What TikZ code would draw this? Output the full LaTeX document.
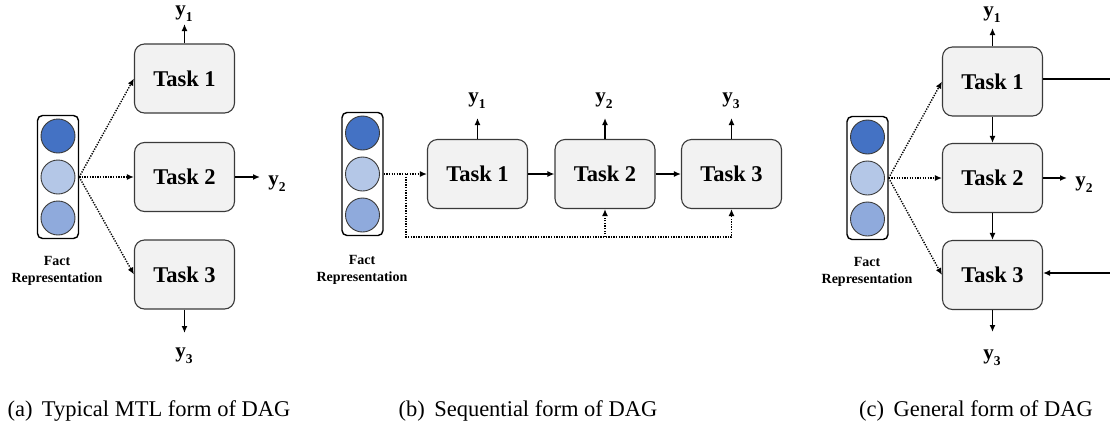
\documentclass[tikz,border=0pt]{standalone}
\usepackage{fontspec}
\setmainfont{Liberation Serif}
\usetikzlibrary{arrows.meta}
\definecolor{cdark}{HTML}{4472C4}
\definecolor{clight}{HTML}{B4C7E7}
\definecolor{cmid}{HTML}{8FAADC}
\definecolor{boxfill}{HTML}{F2F2F2}
\definecolor{boxline}{HTML}{3A3A3A}
\newcommand\ylab[1]{\textbf{y}\raisebox{-0.28em}{\fontsize{13.5}{14}\selectfont\textbf{#1}}}
\tikzset{
  taskbox/.style={draw=boxline, fill=boxfill, line width=1.1pt, rounded corners=10pt,
    minimum width=100pt, minimum height=69pt, inner sep=0pt,
    font=\fontsize{22.5}{25}\selectfont\bfseries},
  repbox/.style={draw=black, line width=1.4pt, rounded corners=5pt,
    minimum width=41pt, minimum height=123pt, inner sep=0pt},
  dotcirc/.style={circle, draw=boxline, line width=0.9pt, minimum size=34pt, inner sep=0pt},
  replab/.style={align=center, font=\fontsize{14}{17}\selectfont\bfseries, inner sep=0pt},
  ylabel/.style={font=\fontsize{21}{22}\selectfont, inner sep=0pt},
  captext/.style={font=\fontsize{22.5}{26}\selectfont, inner sep=0pt},
  solidarrow/.style={line width=1.4pt, -{Latex[length=7pt,width=6pt]}},
  solidline/.style={line width=1.4pt},
  dotarrow/.style={line width=1.4pt, dash pattern=on 1.3pt off 1.3pt, -{Latex[length=7pt,width=6pt]}},
  dotline/.style={line width=1.4pt, dash pattern=on 1.3pt off 1.3pt},
}
\begin{document}
\begin{tikzpicture}[x=1pt, y=-1pt]
\useasboundingbox (0,0) rectangle (1110,437);

%% ---------- (a) ----------
\node[repbox] (ar) at (58,177) {};
\node[dotcirc, fill=cdark]  (ac1) at (58,136) {};
\node[dotcirc, fill=clight] (ac2) at (58,177) {};
\node[dotcirc, fill=cmid]   (ac3) at (58,218) {};
\node[replab] (al) at (57,271) {Fact\\Representation};
\node[taskbox] (a1) at (184.5,78.5) {Task 1};
\node[taskbox] (a2) at (184.5,177) {Task 2};
\node[taskbox] (a3) at (184.5,274.5) {Task 3};
\coordinate (ay1) at (184.5,24);
\coordinate (ay2) at (260,177);
\coordinate (ay3) at (184.5,333);
\node[ylabel] (ly1a) at (184,13.5) {\ylab{1}};
\node[ylabel] (ly2a) at (277,184) {\ylab{2}};
\node[ylabel] (ly3a) at (184,356) {\ylab{3}};
\draw[solidarrow] (a1.north) -- (ay1);
\draw[solidarrow] (a2.east) -- (ay2);
\draw[solidarrow] (a3.south) -- (ay3);
\draw[dotarrow] (ar.east) -- (a1.west);
\draw[dotarrow] (ar.east) -- (a2.west);
\draw[dotarrow] (ar.east) -- (a3.west);
\node[captext] (capa) at (149,411) {(a)\, Typical MTL form of DAG};

%% ---------- (b) ----------
\node[repbox] (br) at (362.5,174) {};
\node[dotcirc, fill=cdark]  (bc1) at (362.5,133) {};
\node[dotcirc, fill=clight] (bc2) at (362.5,174) {};
\node[dotcirc, fill=cmid]   (bc3) at (362.5,215) {};
\node[replab] (bl) at (362,270) {Fact\\Representation};
\node[taskbox] (b1) at (477.5,174) {Task 1};
\node[taskbox] (b2) at (605,174) {Task 2};
\node[taskbox] (b3) at (731.5,174) {Task 3};
\coordinate (by1) at (477.5,118);
\coordinate (by2) at (605,118);
\coordinate (by3) at (731.5,118);
\node[ylabel] (ly1b) at (477,101) {\ylab{1}};
\node[ylabel] (ly2b) at (604,101) {\ylab{2}};
\node[ylabel] (ly3b) at (731,101) {\ylab{3}};
\draw[solidarrow] (b1.north) -- (by1);
\draw[solidarrow] (b2.north) -- (by2);
\draw[solidarrow] (b3.north) -- (by3);
\draw[solidarrow] (b1.east) -- (b2.west);
\draw[solidarrow] (b2.east) -- (b3.west);
\coordinate (bj) at (406,174);
\coordinate (bd) at (406,237);
\draw[dotarrow] (br.east) -- (b1.west);
\draw[dotarrow] (bj) -- (bd) -| (b3.south);
\draw[dotarrow] (b2.south |- bd) -- (b2.south);
\node[captext] (capb) at (528,411) {(b)\, Sequential form of DAG};

%% ---------- (c) ----------
\node[repbox] (cr) at (867.5,178) {};
\node[dotcirc, fill=cdark]  (cc1) at (867.5,137) {};
\node[dotcirc, fill=clight] (cc2) at (867.5,178) {};
\node[dotcirc, fill=cmid]   (cc3) at (867.5,219) {};
\node[replab] (cl) at (867,272) {Fact\\Representation};
\node[taskbox] (c1) at (992.5,81.5) {Task 1};
\node[taskbox] (c2) at (992.5,178) {Task 2};
\node[taskbox] (c3) at (992.5,275) {Task 3};
\coordinate (cy1) at (992.5,28);
\coordinate (cy2) at (1067,178);
\coordinate (cy3) at (992.5,332);
\node[ylabel] (ly1c) at (992,15) {\ylab{1}};
\node[ylabel] (ly2c) at (1084,185) {\ylab{2}};
\node[ylabel] (ly3c) at (992,358) {\ylab{3}};
\draw[solidarrow] (c1.north) -- (cy1);
\draw[solidarrow] (c2.east) -- (cy2);
\draw[solidarrow] (c3.south) -- (cy3);
\draw[solidarrow] (c1.south) -- (c2.north);
\draw[solidarrow] (c2.south) -- (c3.north);
\coordinate (ce1) at (1112,79);
\coordinate (ce3) at (1112,273);
\draw[solidline] (c1.east |- ce1) -- (ce1);
\draw[solidarrow] (ce3) -- (c3.east |- ce3);
\draw[dotarrow] (cr.east) -- (c1.west);
\draw[dotarrow] (cr.east) -- (c2.west);
\draw[dotarrow] (cr.east) -- (c3.west);
\node[captext] (capc) at (976,411) {(c)\, General form of DAG};
\end{tikzpicture}
\end{document}
